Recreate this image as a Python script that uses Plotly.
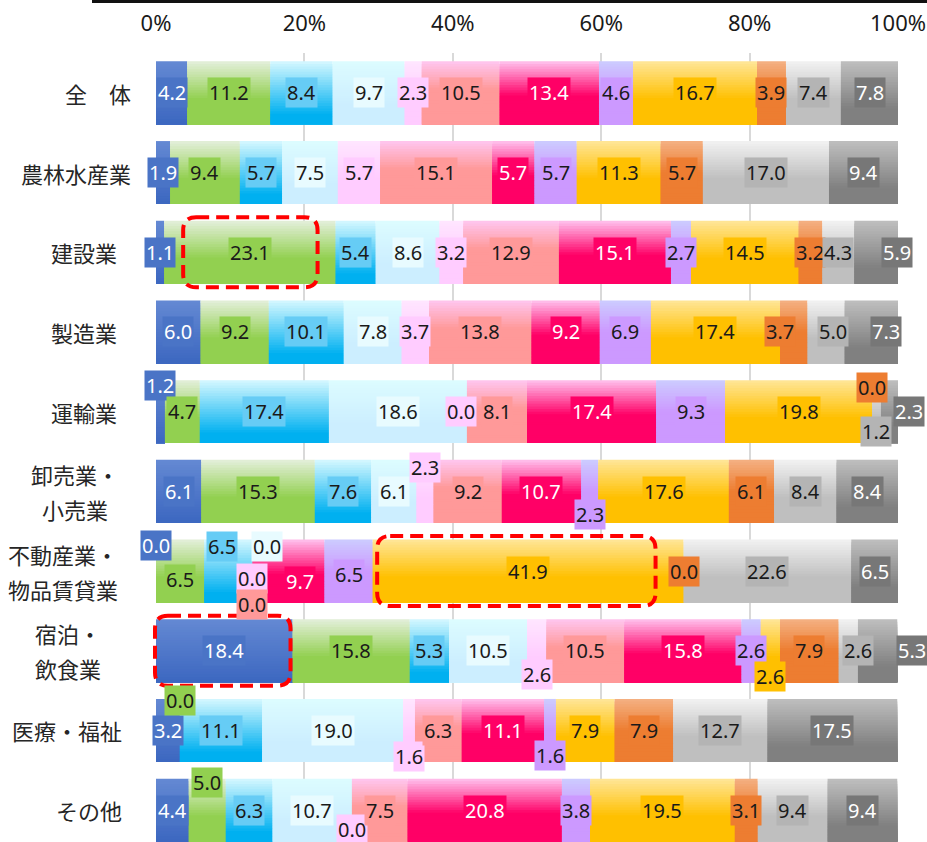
import plotly.graph_objects as go

# ---------------- data ----------------
categories = ["全　体", "農林水産業", "建設業", "製造業", "運輸業",
              "卸売業・小売業", "不動産業・物品賃貸業", "宿泊・飲食業", "医療・福祉", "その他"]
row_label_lines = [["全　体"], ["農林水産業"], ["建設業"], ["製造業"], ["運輸業"],
                   ["卸売業・", "小売業"], ["不動産業・", "物品賃貸業"], ["宿泊・", "飲食業"],
                   ["医療・福祉"], ["その他"]]

s01 = [4.2, 1.9, 1.1, 6.0, 1.2, 6.1, 0.0, 18.4, 3.2, 4.4]
s02 = [11.2, 9.4, 23.1, 9.2, 4.7, 15.3, 6.5, 15.8, 0.0, 5.0]
s03 = [8.4, 5.7, 5.4, 10.1, 17.4, 7.6, 6.5, 5.3, 11.1, 6.3]
s04 = [9.7, 7.5, 8.6, 7.8, 18.6, 6.1, 0.0, 10.5, 19.0, 10.7]
s05 = [2.3, 5.7, 3.2, 3.7, 0.0, 2.3, 0.0, 2.6, 1.6, 0.0]
s06 = [10.5, 15.1, 12.9, 13.8, 8.1, 9.2, 0.0, 10.5, 6.3, 7.5]
s07 = [13.4, 5.7, 15.1, 9.2, 17.4, 10.7, 9.7, 15.8, 11.1, 20.8]
s08 = [4.6, 5.7, 2.7, 6.9, 9.3, 2.3, 6.5, 2.6, 1.6, 3.8]
s09 = [16.7, 11.3, 14.5, 17.4, 19.8, 17.6, 41.9, 2.6, 7.9, 19.5]
s10 = [3.9, 5.7, 3.2, 3.7, 0.0, 6.1, 0.0, 7.9, 7.9, 3.1]
s11 = [7.4, 17.0, 4.3, 5.0, 1.2, 8.4, 22.6, 2.6, 12.7, 9.4]
s12 = [7.8, 9.4, 5.9, 7.3, 2.3, 8.4, 6.5, 5.3, 17.5, 9.4]
series = [s01, s02, s03, s04, s05, s06, s07, s08, s09, s10, s11, s12]

x_tick_vals = [0, 20, 40, 60, 80, 100]
x_tick_text = ["0%", "20%", "40%", "60%", "80%", "100%"]

# ---------------- style ----------------
W, H = 927, 842
ML, MR, MT, MB = 156, 29, 53, 0
PW, PH = W - ML - MR, H - MT - MB

main_colors = ["#3c67c0", "#92d050", "#00b0f0", "#cceeff", "#ffccff", "#ff9999",
               "#ff0066", "#cc99ff", "#ffc000", "#ed7d31", "#bfbfbf", "#808080"]
top_colors = ["#6489d3", "#e4efdb", "#d6f8ff", "#dcfcff", "#ffe6ff", "#ffc6f0",
              "#ffc2ee", "#ccccff", "#ffe699", "#f4b183", "#f2f2f2", "#bfbfbf"]
grad_end = [1.0, 0.6, 0.85, 0.7, 0.6, 0.45, 0.55, 0.5, 0.6, 0.5, 0.6, 0.75]
box_colors = ["#4a74c6", "#92d050", "#66ccf5", "#e8fbff", "#ffccff", "#ff9999",
              "#ff0066", "#cc99ff", "#ffc000", "#ed7d31", "#b4b4b4", "#777777"]
text_colors = ["#ffffff", "#1a1a1a", "#1a1a1a", "#1a1a1a", "#1a1a1a", "#1a1a1a",
               "#ffffff", "#1a1a1a", "#1a1a1a", "#1a1a1a", "#1a1a1a", "#ffffff"]

label_centers_px = [98, 76, 84, 84, 84, 75, 63, 68, 67, 89]

# label offsets (row, series) -> (dx, dy) pixels, dy positive = down
label_offsets = {
    (2, 11): (21, 0),
    (3, 9): (-14, 0), (3, 10): (7, 0), (3, 11): (14, 0),
    (4, 0): (0, -26), (4, 4): (-6, 0), (4, 9): (0, -24), (4, 10): (0, 20), (4, 11): (20, 0),
    (5, 4): (0, -24), (5, 7): (0, 23),
    (6, 0): (0, -26), (6, 1): (0, 8), (6, 2): (-6, -25), (6, 3): (15, -25),
    (6, 4): (0, 7), (6, 5): (0, 33), (6, 6): (12, 10), (6, 7): (0, 3),
    (7, 4): (0, 24), (7, 8): (0, 26), (7, 10): (10, 0), (7, 11): (34, 0),
    (8, 1): (0, -30), (8, 4): (0, 26), (8, 7): (0, 25),
    (9, 1): (0, -28), (9, 4): (0, 19),
}

# highlight boxes: (row, series, left inset px, right inset px)
highlights = [(2, 1, 19, 18), (6, 8, 4.5, 28), (7, 0, -1, 2)]

BAR_W = 0.79
N_STRIPES = 24


def hex_to_rgb(h):
    h = h.lstrip("#")
    return tuple(int(h[i:i + 2], 16) for i in (0, 2, 4))


def mix(c1, c2, t):
    a, b = hex_to_rgb(c1), hex_to_rgb(c2)
    return "rgb(%d,%d,%d)" % tuple(round(a[i] + (b[i] - a[i]) * t) for i in range(3))


# cumulative starts
n_rows = len(categories)
starts = []
acc = [0.0] * n_rows
for s in series:
    starts.append(list(acc))
    acc = [acc[i] + s[i] for i in range(n_rows)]

fig = go.Figure()

for k in range(N_STRIPES):
    t0 = k / N_STRIPES
    tc = (k + 0.5) / N_STRIPES
    for si, s in enumerate(series):
        t = min(tc / grad_end[si], 1.0)
        fig.add_trace(go.Bar(
            orientation="h", y=categories, x=s, base=starts[si],
            width=BAR_W * (1 - t0), offset=-BAR_W / 2 + BAR_W * t0,
            marker=dict(color=mix(top_colors[si], main_colors[si], t), line=dict(width=0)),
            showlegend=False, hoverinfo="skip",
        ))

annotations = []
# value labels
for si, s in enumerate(series):
    for ri, v in enumerate(s):
        dx, dy = label_offsets.get((ri, si), (0, 0))
        annotations.append(dict(
            x=starts[si][ri] + v / 2, y=categories[ri], xref="x", yref="y",
            text=f"{v:.1f}", showarrow=False, xshift=dx, yshift=-dy,
            font=dict(family="Noto Sans", size=20, color=text_colors[si]),
            bgcolor=box_colors[si], borderpad=1,
        ))

unit = PH / 9.9

# category labels
for ri, lines in enumerate(row_label_lines):
    cy = MT + (ri + 0.5) * unit
    n = len(lines)
    for li, line in enumerate(lines):
        py = cy + (li - (n - 1) / 2) * 35
        annotations.append(dict(
            x=(label_centers_px[ri] - ML) / PW, y=(H - MB - py) / PH,
            xref="paper", yref="paper", text=line, showarrow=False,
            xanchor="center", yanchor="middle",
            font=dict(family="Noto Sans CJK JP", size=22, color="#262626"),
        ))

shapes = []


def px_x(px):
    return (px - ML) / PW


def px_y(py):
    return (H - MB - py) / PH


for ri, si, li, rinset in highlights:
    x0 = ML + starts[si][ri] / 100 * PW + li
    x1 = ML + (starts[si][ri] + series[si][ri]) / 100 * PW - rinset
    cy = MT + (ri + 0.5) * unit
    y0, y1 = cy - 35, cy + 35
    r = 13
    pts = [("M", x0 + r, y0), ("L", x1 - r, y0), ("Q", x1, y0, x1, y0 + r),
           ("L", x1, y1 - r), ("Q", x1, y1, x1 - r, y1), ("L", x0 + r, y1),
           ("Q", x0, y1, x0, y1 - r), ("L", x0, y0 + r), ("Q", x0, y0, x0 + r, y0)]
    path = ""
    for p in pts:
        if p[0] == "Q":
            path += f"Q{px_x(p[1]):.5f},{px_y(p[2]):.5f} {px_x(p[3]):.5f},{px_y(p[4]):.5f} "
        else:
            path += f"{p[0]}{px_x(p[1]):.5f},{px_y(p[2]):.5f} "
    path += "Z"
    shapes.append(dict(type="path", path=path, xref="paper", yref="paper",
                       line=dict(color="#ff0000", width=4, dash="13px,7px"),
                       layer="above"))

# top border line
shapes.append(dict(type="line", xref="paper", yref="paper",
                   x0=px_x(92), x1=px_x(930), y0=px_y(1.5), y1=px_y(1.5),
                   line=dict(color="#111111", width=3)))

fig.update_layout(
    width=W, height=H, barmode="overlay",
    margin=dict(l=ML, r=MR, t=MT, b=MB, autoexpand=False),
    paper_bgcolor="white", plot_bgcolor="white",
    xaxis=dict(side="top", range=[0, 100], tickvals=x_tick_vals, ticktext=x_tick_text,
               tickmode="array",
               showgrid=True, gridcolor="#d9d9d9", gridwidth=2, zeroline=False,
               showline=False, ticks="", ticklabelstandoff=17,
               tickfont=dict(family="Noto Sans", size=22, color="#1a1a1a")),
    yaxis=dict(type="category", categoryorder="array", categoryarray=categories,
               range=[9.4, -0.5], showticklabels=False, showgrid=False,
               zeroline=False, showline=False, ticks=""),
    annotations=annotations, shapes=shapes, showlegend=False,
)

fig.write_html("out.html", config={"displayModeBar": False},
               post_script="document.body.style.margin='0';document.body.style.overflow='hidden';")
